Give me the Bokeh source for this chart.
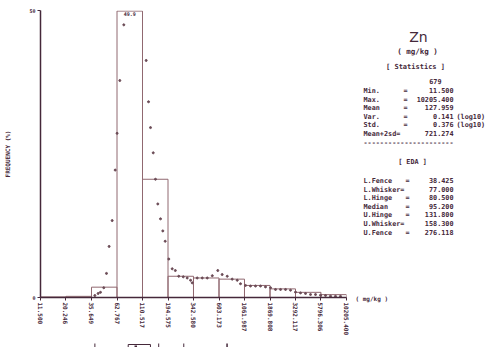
from bokeh.plotting import figure
from bokeh.models import Range1d, FixedTicker, ColumnDataSource
from bokeh.layouts import row, column
from bokeh.embed import file_html
from bokeh.resources import INLINE
from bokeh.core.properties import value

# ---------------- data ----------------
bin_edges = [11.500, 20.246, 35.649, 62.767, 110.517, 194.575, 342.580,
             603.173, 1061.987, 1869.808, 3292.117, 5796.306, 10205.400]
tick_labels = ["11.500", "20.246", "35.649", "62.767", "110.517", "194.575",
               "342.580", "603.173", "1061.987", "1869.808", "3292.117",
               "5796.306", "10205.400"]
bar_freq = [0.1, 0.2, 1.8, 49.9, 20.6, 3.7, 3.4, 3.2, 2.1, 1.5, 0.9, 0.5]
peak_label = "49.9"

pt_x = [38.4, 41.3, 43.5, 46.8, 49.7, 52.7, 56.4, 60.3, 62.9, 66.8, 73.0,
        119.9, 126.3, 132.0, 140.2, 147.4, 155.2, 164.8, 173.4, 182.8, 198.0,
        213.6, 229.0, 247.0, 273.0, 298.0, 321.0, 333.0, 372.0, 416.0, 465.0,
        520.0, 587.0, 647.0, 724.0, 808.0, 904.0, 972.0, 1086.0, 1213.0,
        1356.0, 1515.0, 1692.0, 1892.0, 2113.0, 2362.0, 2639.0, 2948.0,
        3294.0, 3680.0, 4112.0, 4594.0, 5133.0, 5735.0, 6408.0, 7157.0,
        7995.0, 8930.0]
pt_y = [0.35, 0.7, 0.9, 1.7, 4.2, 8.9, 13.4, 22.2, 28.6, 37.8, 47.5,
        41.3, 34.1, 29.6, 25.2, 20.6, 16.3, 13.7, 11.6, 9.8, 6.7,
        5.0, 4.7, 3.7, 3.6, 3.4, 3.0, 2.55, 3.4, 3.4, 3.4,
        3.8, 4.7, 4.0, 3.7, 3.2, 3.0, 2.4, 2.1, 2.0,
        2.0, 2.0, 1.85, 1.7, 1.4, 1.4, 1.4, 1.27,
        0.93, 0.8, 0.7, 0.52, 0.52, 0.4, 0.35, 0.23,
        0.2, 0.2]

element = "Zn"
unit = "( mg/kg )"
n_samples = 679
stat_names = ["Min.", "Max.", "Mean", "Var.", "Std.", "Mean+2sd="]
stat_eq = ["=", "=", "=", "=", "=", ""]
stat_values = [11.500, 10205.400, 127.959, 0.141, 0.376, 721.274]
stat_suffix = ["", "", "", "(log10)", "(log10)", ""]
eda_names = ["L.Fence", "L.Whisker=", "L.Hinge", "Median", "U.Hinge",
             "U.Whisker=", "U.Fence"]
eda_eq = ["=", "", "=", "=", "=", "", "="]
eda_values = [38.425, 77.000, 80.500, 95.200, 131.800, 158.300, 276.118]
mean_2sd = 721.274

# ---------------- style ----------------
INK = "#45283a"
DOT = "#6a4a55"
BAR = "#906870"
MONO = "DejaVu Sans Mono"

# ---------------- main histogram ----------------
p = figure(width=350, height=338, x_axis_type="log",
           x_range=Range1d(bin_edges[0], bin_edges[-1]),
           y_range=Range1d(0, 50),
           toolbar_location=None, output_backend="svg",
           min_border_left=40, min_border_right=4,
           min_border_top=10, min_border_bottom=40)
p.grid.visible = False
p.outline_line_color = None
p.background_fill_color = "white"
p.border_fill_color = "white"

src = ColumnDataSource(dict(left=bin_edges[:-1], right=bin_edges[1:],
                            top=bar_freq, bottom=[0] * len(bar_freq)))
p.quad(left="left", right="right", top="top", bottom="bottom", source=src,
       fill_color=None, line_color=BAR, line_width=1)

p.scatter(pt_x, pt_y, size=2.0, color=DOT)

peak_i = bar_freq.index(max(bar_freq))
peak_x = (bin_edges[peak_i] * bin_edges[peak_i + 1]) ** 0.5
p.text(x=[peak_x], y=[bar_freq[peak_i]], text=[peak_label],
       text_font=value(MONO), text_font_size=value("5px"),
       text_font_style="bold", text_color=INK,
       text_align="center", text_baseline="top", y_offset=1)

xa = p.xaxis[0]
xa.ticker = FixedTicker(ticks=bin_edges)
xa.major_label_overrides = {v: s for v, s in zip(bin_edges, tick_labels)}
xa.major_label_orientation = "vertical"
xa.major_label_text_font = MONO
xa.major_label_text_font_size = "6px"
xa.major_label_text_font_style = "bold"
xa.major_label_text_color = INK
xa.major_label_standoff = 2
xa.major_tick_out = 3
xa.major_tick_in = 0
xa.minor_tick_line_color = None
xa.axis_line_width = 1.5
xa.axis_line_color = INK
xa.major_tick_line_color = INK

ya = p.yaxis[0]
ya.ticker = FixedTicker(ticks=[0, 50])
ya.major_label_text_font = MONO
ya.major_label_text_font_size = "5px"
ya.major_label_text_font_style = "bold"
ya.major_label_text_color = INK
ya.major_label_standoff = 2
ya.major_tick_out = 3
ya.major_tick_in = 0
ya.minor_tick_line_color = None
ya.axis_line_width = 1.5
ya.axis_line_color = INK
ya.major_tick_line_color = INK
ya.axis_label = "FREQUENCY (%)"
ya.axis_label_text_font = MONO
ya.axis_label_text_font_size = "6px"
ya.axis_label_text_font_style = "bold"
ya.axis_label_text_color = INK
ya.axis_label_standoff = 15

# ---------------- box plot strip ----------------
b = figure(width=350, height=9, x_axis_type="log", x_range=p.x_range,
           y_range=Range1d(0, 9), toolbar_location=None, output_backend="svg",
           x_axis_location=None, y_axis_location=None,
           min_border_left=40, min_border_right=4,
           min_border_top=0, min_border_bottom=0)
b.grid.visible = False
b.outline_line_color = None
b.border_fill_color = "white"
lf, lw, lh, med, uh, uw, uf = eda_values
b.segment(x0=[lf, uh], y0=[1, 1], x1=[lh, uw], y1=[1, 1], line_color=INK, line_width=1)
b.segment(x0=[lf, uw, uf], y0=[0, 0, 0], x1=[lf, uw, uf], y1=[7, 7, 7],
          line_color=INK, line_width=1)
b.quad(left=[lh], right=[uh], bottom=[-2], top=[6], fill_color="white",
       line_color=INK, line_width=1)
b.segment(x0=[med], y0=[0], x1=[med], y1=[5], line_color=INK, line_width=2.5)
b.segment(x0=[mean_2sd], y0=[0], x1=[mean_2sd], y1=[7], line_color=INK, line_width=1.5)

# ---------------- side statistics panel ----------------
s = figure(width=149, height=347, x_range=Range1d(350, 499),
           y_range=Range1d(347, 0), toolbar_location=None,
           output_backend="svg", x_axis_location=None, y_axis_location=None,
           min_border=0)
s.grid.visible = False
s.outline_line_color = None
s.border_fill_color = "white"
s.background_fill_color = "white"


def put(xs, ys, texts, size="6.8px", align="left", font=MONO, style="bold"):
    s.text(x=xs, y=ys, text=texts, text_font=value(font),
           text_font_size=value(size), text_font_style=style,
           text_color=INK, text_align=align, text_baseline="middle")


put([418], [36], [element], size="14px", align="center", font="DejaVu Sans", style="normal")
put([417], [51], [unit], size="7.5px", align="center")
put([415], [66], ["[ Statistics ]"], size="7px", align="center")
put([441], [81], [str(n_samples)], align="right")

stat_y = [90, 99, 107, 116, 124, 133]
put([363] * 6, stat_y, stat_names)
put([403] * 6, stat_y, stat_eq)
put([453] * 6, stat_y, [f"{v:.3f}" for v in stat_values], align="right")
put([456] * 6, stat_y, stat_suffix)
put([363], [142], ["-" * 22])
put([412], [161], ["[ EDA ]"], align="center")

eda_y = [180, 189, 197, 206, 214, 223, 232]
put([363] * 7, eda_y, eda_names)
put([405] * 7, eda_y, eda_eq)
put([453] * 7, eda_y, [f"{v:.3f}" for v in eda_values], align="right")

put([355], [298], [unit], size="6px")

layout = row(column(p, b), s)
open("out.html", "w").write(file_html(layout, INLINE))
